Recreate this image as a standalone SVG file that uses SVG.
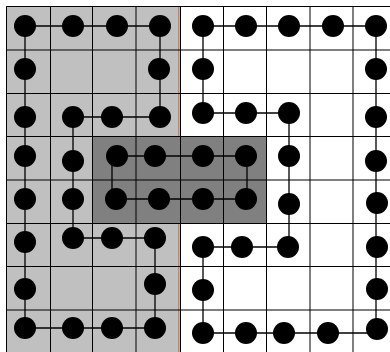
<svg xmlns="http://www.w3.org/2000/svg" width="390" height="352" viewBox="0 0 390 352">
<style>
.grid line{stroke:#000;stroke-width:1}
.conn{fill:none;stroke:#000;stroke-width:1.3}
.dot{fill:#000}
</style>
<rect width="390" height="352" fill="#fff"/>
<g id="regions">
<rect x="6.5" y="6.5" width="172.5" height="360" fill="#c0c0c0" stroke="#9a5a30" stroke-width="1"/>
<rect x="93" y="136.5" width="173.5" height="86.5" fill="#808080"/>
</g>
<g class="grid" id="grid">
<line x1="6.5" y1="6.5" x2="390" y2="6.5"/>
<line x1="6" y1="50" x2="390" y2="50"/>
<line x1="6" y1="93.5" x2="390" y2="93.5"/>
<line x1="6" y1="136.5" x2="390" y2="136.5"/>
<line x1="6" y1="180" x2="390" y2="180"/>
<line x1="6" y1="223.5" x2="390" y2="223.5"/>
<line x1="6" y1="266.5" x2="390" y2="266.5"/>
<line x1="6" y1="310" x2="390" y2="310"/>
<line x1="6.5" y1="6" x2="6.5" y2="352"/>
<line x1="50.5" y1="6" x2="50.5" y2="352"/>
<line x1="92.5" y1="6" x2="92.5" y2="352"/>
<line x1="136" y1="6" x2="136" y2="352"/>
<line x1="180.5" y1="6" x2="180.5" y2="352"/>
<line x1="223.5" y1="6" x2="223.5" y2="352"/>
<line x1="266.5" y1="6" x2="266.5" y2="352"/>
<line x1="310" y1="6" x2="310" y2="352"/>
<line x1="353" y1="6" x2="353" y2="352"/>
</g>
<g id="connectors">
<polygon class="conn" points="25,26 160,26 160,117 73,117 73,238 155,238 155,328 25,328"/>
<polygon class="conn" points="112,156 247,156 247,199 112,199"/>
<polygon class="conn" points="203,26 376,26 376,333 203,333 203,247 289,247 289,113 203,113"/>
</g>
<g id="nodes">
<g id="n1"><circle class="dot" cx="25" cy="26" r="11"/></g>
<g id="n2"><circle class="dot" cx="73" cy="26" r="11"/></g>
<g id="n3"><circle class="dot" cx="117" cy="26" r="11"/></g>
<g id="n4"><circle class="dot" cx="160" cy="26" r="11"/></g>
<g id="n5"><circle class="dot" cx="25" cy="69" r="11"/></g>
<g id="n6"><circle class="dot" cx="159" cy="69" r="11"/></g>
<g id="n7"><circle class="dot" cx="25" cy="117" r="11"/></g>
<g id="n8"><circle class="dot" cx="73" cy="117" r="11"/></g>
<g id="n9"><circle class="dot" cx="112" cy="117" r="11"/></g>
<g id="n10"><circle class="dot" cx="160" cy="117" r="11"/></g>
<g id="n11"><circle class="dot" cx="25" cy="156" r="11"/></g>
<g id="n12"><circle class="dot" cx="73" cy="161" r="11"/></g>
<g id="n13"><circle class="dot" cx="25" cy="199" r="11"/></g>
<g id="n14"><circle class="dot" cx="73" cy="199" r="11"/></g>
<g id="n15"><circle class="dot" cx="25" cy="242" r="11"/></g>
<g id="n16"><circle class="dot" cx="73" cy="238" r="11"/></g>
<g id="n17"><circle class="dot" cx="112" cy="238" r="11"/></g>
<g id="n18"><circle class="dot" cx="155" cy="238" r="11"/></g>
<g id="n19"><circle class="dot" cx="25" cy="289" r="11"/></g>
<g id="n20"><circle class="dot" cx="155" cy="284" r="11"/></g>
<g id="n21"><circle class="dot" cx="25" cy="328" r="11"/></g>
<g id="n22"><circle class="dot" cx="73" cy="328" r="11"/></g>
<g id="n23"><circle class="dot" cx="112" cy="328" r="11"/></g>
<g id="n24"><circle class="dot" cx="155" cy="328" r="11"/></g>
<g id="n25"><circle class="dot" cx="117" cy="156" r="11"/></g>
<g id="n26"><circle class="dot" cx="155" cy="156" r="11"/></g>
<g id="n27"><circle class="dot" cx="203" cy="156" r="11"/></g>
<g id="n28"><circle class="dot" cx="246" cy="156" r="11"/></g>
<g id="n29"><circle class="dot" cx="116" cy="199" r="11"/></g>
<g id="n30"><circle class="dot" cx="159" cy="199" r="11"/></g>
<g id="n31"><circle class="dot" cx="203" cy="199" r="11"/></g>
<g id="n32"><circle class="dot" cx="246" cy="199" r="11"/></g>
<g id="n33"><circle class="dot" cx="203" cy="26" r="11"/></g>
<g id="n34"><circle class="dot" cx="246" cy="26" r="11"/></g>
<g id="n35"><circle class="dot" cx="289" cy="26" r="11"/></g>
<g id="n36"><circle class="dot" cx="333" cy="26" r="11"/></g>
<g id="n37"><circle class="dot" cx="376" cy="26" r="11"/></g>
<g id="n38"><circle class="dot" cx="203" cy="69" r="11"/></g>
<g id="n39"><circle class="dot" cx="376" cy="69" r="11"/></g>
<g id="n40"><circle class="dot" cx="203" cy="113" r="11"/></g>
<g id="n41"><circle class="dot" cx="246" cy="113" r="11"/></g>
<g id="n42"><circle class="dot" cx="289" cy="113" r="11"/></g>
<g id="n43"><circle class="dot" cx="376" cy="117" r="11"/></g>
<g id="n44"><circle class="dot" cx="289" cy="156" r="11"/></g>
<g id="n45"><circle class="dot" cx="376" cy="161" r="11"/></g>
<g id="n46"><circle class="dot" cx="289" cy="204" r="11"/></g>
<g id="n47"><circle class="dot" cx="377" cy="203" r="11"/></g>
<g id="n48"><circle class="dot" cx="203" cy="247" r="11"/></g>
<g id="n49"><circle class="dot" cx="242" cy="247" r="11"/></g>
<g id="n50"><circle class="dot" cx="288" cy="247" r="11"/></g>
<g id="n51"><circle class="dot" cx="377" cy="247" r="11"/></g>
<g id="n52"><circle class="dot" cx="203" cy="290" r="11"/></g>
<g id="n53"><circle class="dot" cx="377" cy="289" r="11"/></g>
<g id="n54"><circle class="dot" cx="203" cy="333" r="11"/></g>
<g id="n55"><circle class="dot" cx="246" cy="333" r="11"/></g>
<g id="n56"><circle class="dot" cx="284" cy="333" r="11"/></g>
<g id="n57"><circle class="dot" cx="328" cy="333" r="11"/></g>
<g id="n58"><circle class="dot" cx="377" cy="329" r="11"/></g>
</g>
</svg>
